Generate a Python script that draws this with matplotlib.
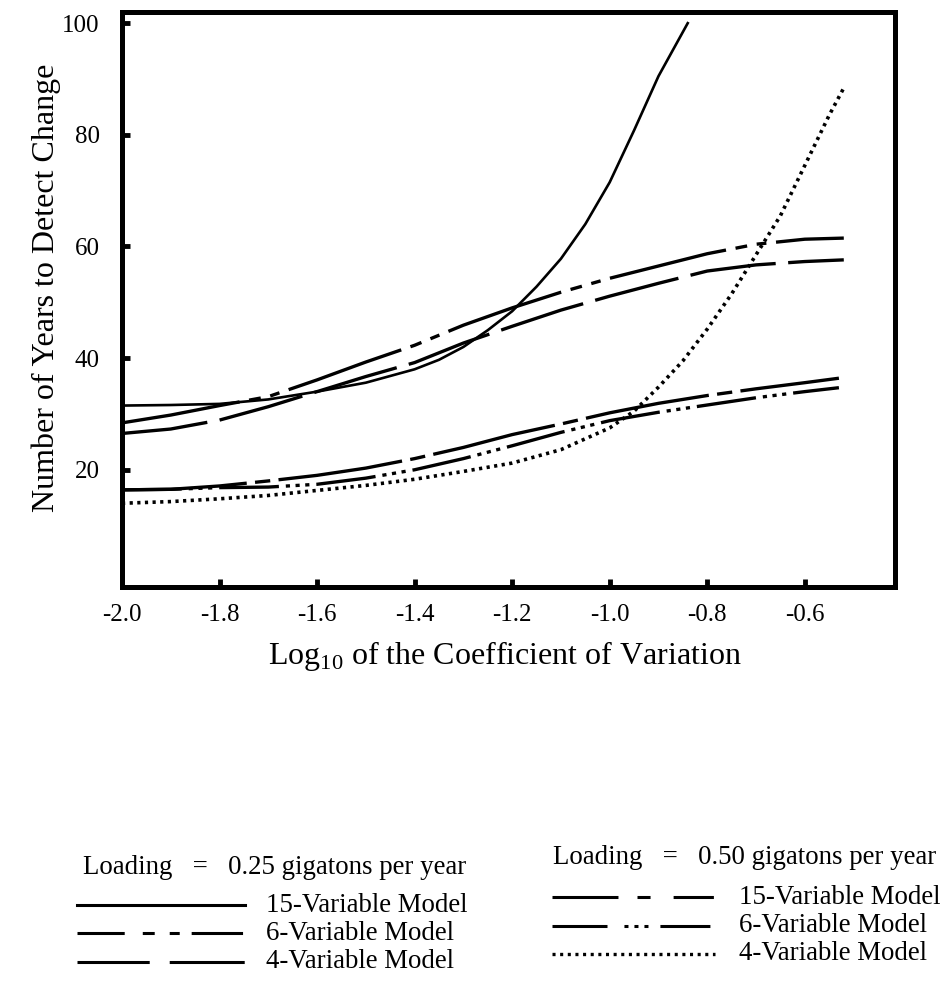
import matplotlib
matplotlib.use('Agg')
import matplotlib.pyplot as plt

plt.rcParams['font.family'] = ['Liberation Serif', 'DejaVu Serif']
plt.rcParams['mathtext.fontset'] = 'custom'
plt.rcParams['mathtext.rm'] = 'Liberation Serif'
plt.rcParams['axes.unicode_minus'] = False
plt.rcParams['lines.scale_dashes'] = False

# loading = 0.25 gigatons per year
x_15v_a = [-2.0, -1.9, -1.8, -1.7, -1.6, -1.5, -1.4, -1.35, -1.3, -1.25, -1.2,
           -1.15, -1.1, -1.05, -1.0, -0.95, -0.9, -0.84]
yrs_15v_a = [31.5, 31.6, 31.8, 32.6, 34.0, 35.6, 38.0, 39.7, 42.0, 45.0, 48.4,
             52.8, 57.8, 64.0, 71.5, 80.8, 90.5, 100.0]
x_6v_a = [-2.0, -1.9, -1.8, -1.7, -1.6, -1.5, -1.4, -1.3, -1.2, -1.1, -1.0,
          -0.9, -0.8, -0.7, -0.6, -0.52]
yrs_6v_a = [28.4, 29.8, 31.5, 33.1, 36.1, 39.3, 42.3, 45.9, 49.0, 51.8, 54.3,
            56.5, 58.7, 60.4, 61.3, 61.5]
x_4v_a = [-2.0, -1.9, -1.8, -1.7, -1.6, -1.5, -1.4, -1.3, -1.2, -1.1, -1.0,
          -0.9, -0.8, -0.7, -0.6, -0.52]
yrs_4v_a = [26.5, 27.3, 28.9, 31.3, 34.0, 36.7, 39.2, 42.7, 45.7, 48.6, 51.1,
            53.4, 55.6, 56.7, 57.3, 57.6]

# loading = 0.50 gigatons per year
x_15v_b = [-2.0, -1.9, -1.8, -1.7, -1.6, -1.5, -1.4, -1.3, -1.2, -1.1, -1.0,
           -0.9, -0.8, -0.7, -0.6, -0.53]
yrs_15v_b = [16.4, 16.5, 17.1, 18.0, 19.0, 20.3, 22.0, 24.0, 26.3, 28.2, 30.2,
             31.9, 33.3, 34.5, 35.6, 36.4]
x_6v_b = [-2.0, -1.9, -1.8, -1.7, -1.6, -1.5, -1.4, -1.3, -1.2, -1.1, -1.0,
          -0.9, -0.8, -0.7, -0.6, -0.53]
yrs_6v_b = [16.4, 16.5, 16.8, 16.9, 17.4, 18.5, 20.0, 22.0, 24.3, 26.7, 28.8,
            30.3, 31.6, 32.9, 34.0, 34.7]
x_4v_b = [-2.0, -1.9, -1.8, -1.7, -1.6, -1.5, -1.4, -1.3, -1.2, -1.1, -1.0,
          -0.95, -0.9, -0.85, -0.8, -0.75, -0.7, -0.65, -0.6, -0.55, -0.52]
yrs_4v_b = [14.0, 14.3, 14.8, 15.4, 16.3, 17.2, 18.3, 19.7, 21.2, 23.6, 27.5,
            30.5, 34.8, 39.5, 45.2, 51.5, 58.5, 65.5, 74.5, 83.5, 88.4]

xticks = [-2.0, -1.8, -1.6, -1.4, -1.2, -1.0, -0.8, -0.6]
yticks = [20, 40, 60, 80, 100]

# line styles (dash lengths in points)
st_15v_a = dict(ls='-', lw=1.9)
st_6v_a = dict(dashes=(86, 7, 8.5, 7, 7, 7), lw=2.4)
st_4v_a = dict(dashes=(62, 9), lw=2.4)
st_15v_b = dict(dashes=(90, 6, 11, 6), lw=2.4)
st_6v_b = dict(dashes=(43, 5, 3, 4, 3, 4, 3, 5), lw=2.4)
st_4v_b = dict(dashes=(2.3, 3.2), lw=2.6)

fig = plt.figure(figsize=(9.47, 9.81), dpi=100)
ax = fig.add_axes([122 / 947, 1 - 587 / 981, 773 / 947, 575 / 981])

ax.plot(x_15v_a, yrs_15v_a, color='black', **st_15v_a)
ax.plot(x_6v_a, yrs_6v_a, color='black', **st_6v_a)
ax.plot(x_4v_a, yrs_4v_a, color='black', **st_4v_a)
ax.plot(x_15v_b, yrs_15v_b, color='black', **st_15v_b)
ax.plot(x_6v_b, yrs_6v_b, color='black', **st_6v_b)
ax.plot(x_4v_b, yrs_4v_b, color='black', **st_4v_b)

ax.set_xlim(-2.0, -0.415)
ax.set_ylim(-1.0, 102.0)
ax.set_xticks(xticks)
ax.set_xticklabels(['%.1f' % t for t in xticks])
ax.set_yticks(yticks)
ax.set_yticklabels([str(t) for t in yticks])
ax.tick_params(direction='in', length=6, width=3.5, labelsize=18)
ax.tick_params(axis='y', pad=16)
ax.tick_params(axis='x', pad=12)
for sp in ax.spines.values():
    sp.set_linewidth(3.6)

fig.text(46 / 947, 1 - 288 / 981, 'Number of Years to Detect Change',
         rotation=90, ha='center', va='center', fontsize=23)
fig.text(505 / 947, 1 - 664 / 981,
         r'Log$_{\mathrm{10}}$ of the Coefficient of Variation',
         ha='center', va='baseline', fontsize=23)

# legend drawn in pixel coordinates below the plot
lax = fig.add_axes([0, 0, 1, 1])
lax.set_xlim(0, 947)
lax.set_ylim(981, 0)
lax.axis('off')

fs = 19.4
lax.text(83, 867, 'Loading   =   0.25 gigatons per year', fontsize=fs, va='center')
lax.text(553, 857, 'Loading   =   0.50 gigatons per year', fontsize=fs, va='center')

leg_a = [
    ('15-Variable Model', 905, dict(ls='-', lw=2.2)),
    ('6-Variable Model', 933, dict(dashes=(34, 13, 8.6, 10.8, 7.2, 8.6, 37, 50), lw=2.2)),
    ('4-Variable Model', 962, dict(dashes=(52, 14.4, 54, 40), lw=2.2)),
]
leg_b = [
    ('15-Variable Model', 897, dict(dashes=(47.5, 13.7, 9.4, 16.6, 29, 40), lw=2.2)),
    ('6-Variable Model', 926, dict(dashes=(39.6, 12.2, 2.9, 4.3, 2.9, 4.3, 2.9, 8.6, 36, 40), lw=2.2)),
    ('4-Variable Model', 954, dict(dashes=(2.2, 3.3), lw=2.4)),
]
for label, yy, st in leg_a:
    lax.plot([77, 245], [yy, yy], color='black', **st)
    lax.text(266, yy, label, fontsize=fs, va='center')
for label, yy, st in leg_b:
    lax.plot([552, 715], [yy, yy], color='black', **st)
    lax.text(739, yy, label, fontsize=fs, va='center')

fig.savefig('out.png', dpi=100)
